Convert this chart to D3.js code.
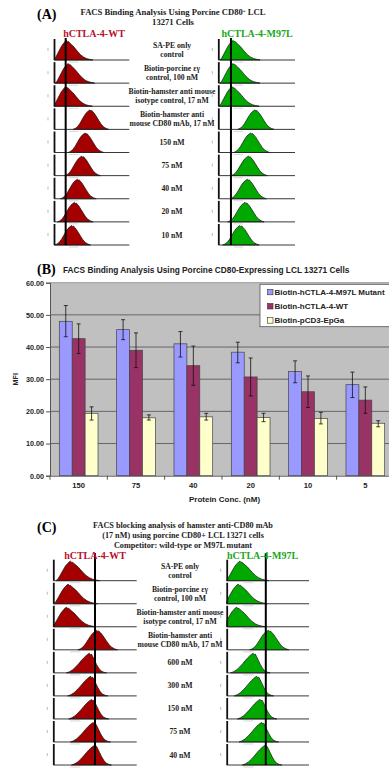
<!DOCTYPE html>
<html>
<meta charset="utf-8">
<title>FACS binding figure</title>
<style>
  html, body { margin: 0; padding: 0; background: #fff; }
  svg { display: block; }
  .serif { font-family: "Liberation Serif", "Times New Roman", serif; font-weight: bold; }
  .sans { font-family: "Liberation Sans", Arial, sans-serif; font-weight: bold; }
</style>
<body>
<div id="chart"></div>
<script src="https://d3js.org/d3.v7.min.js"></script>
<script>
// ---- panel B : bar chart data ----
var concLabels = ["150", "75", "40", "20", "10", "5"];
var seriesNames = ["Biotin-hCTLA-4-M97L Mutant", "Biotin-hCTLA-4-WT", "Biotin-pCD3-EpGa"];
var seriesColors = ["#9999ff", "#993366", "#ffffcc"];
var m97lMean = [48.0, 45.4, 41.0, 38.4, 32.4, 28.3];
var m97lLow  = [43.2, 42.3, 36.9, 35.1, 28.9, 24.3];
var m97lHigh = [52.9, 48.5, 44.8, 41.5, 35.7, 32.2];
var wtMean = [42.6, 39.0, 34.2, 30.7, 26.1, 23.5];
var wtLow  = [38.0, 33.6, 28.1, 24.8, 21.2, 19.4];
var wtHigh = [47.2, 44.4, 40.3, 36.6, 31.0, 27.6];
var epgaMean = [19.4, 18.0, 18.3, 18.1, 17.8, 16.3];
var epgaLow  = [17.3, 17.3, 17.3, 16.8, 16.1, 15.2];
var epgaHigh = [21.4, 18.9, 19.4, 19.4, 19.7, 17.1];
var yTicks = [0, 10, 20, 30, 40, 50, 60];

// ---- panels A and C : histogram data (log10 fluorescence, decades) ----
var rowsA = [["SA-PE only", "control"], ["Biotin-porcine εγ", "control, 100 nM"],
  ["Biotin-hamster anti mouse", "isotype control, 17 nM"], ["Biotin-hamster anti", "mouse CD80 mAb, 17 nM"],
  ["150 nM"], ["75 nM"], ["40 nM"], ["20 nM"], ["10 nM"]];
var peaksA_WT   = [0.67, 0.76, 0.64, 1.91, 1.65, 1.47, 1.24, 1.08, 0.94];
var peaksA_M97L = [0.78, 0.78, 0.73, 1.91, 1.69, 1.56, 1.51, 1.39, 1.13];
var shapesA = ["tail", "tail", "tail", "sym", "sym", "sym", "sym", "sym", "sym"];
var markerA = [0.62, 0.66];

var rowsC = [["SA-PE only", "control"], ["Biotin-porcine εγ", "control, 100 nM"],
  ["Biotin-hamster anti mouse", "isotype control, 17 nM"], ["Biotin-hamster anti", "mouse CD80 mAb, 17 nM"],
  ["600 nM"], ["300 nM"], ["150 nM"], ["75 nM"], ["40 nM"]];
var peaksC_WT   = [0.83, 0.72, 0.64, 2.08, 1.73, 1.79, 1.84, 1.92, 1.97];
var peaksC_M97L = [0.65, 0.57, 0.49, 2.02, 1.29, 1.46, 1.62, 1.70, 1.86];
var shapesC = ["tail", "tail", "tail", "sym", "left", "left", "left", "left", "left"];
var markerC = [2.0, 1.9];

// histogram profiles: [offset from peak (decades), relative count]
var profiles = {
  tail: [[-0.7,0],[-0.6,0.1],[-0.48,0.32],[-0.36,0.55],[-0.24,0.76],[-0.14,0.88],[-0.06,0.97],[0,1],
         [0.05,0.93],[0.1,0.95],[0.16,0.88],[0.25,0.8],[0.36,0.7],[0.48,0.56],[0.6,0.42],[0.74,0.27],
         [0.9,0.15],[1.05,0.08],[1.2,0.04],[1.4,0]],
  sym:  [[-0.9,0],[-0.78,0.05],[-0.66,0.14],[-0.54,0.3],[-0.42,0.5],[-0.3,0.7],[-0.2,0.84],[-0.1,0.93],
         [-0.04,0.97],[0,1],[0.05,0.94],[0.1,0.97],[0.16,0.9],[0.25,0.8],[0.36,0.63],[0.48,0.44],
         [0.6,0.26],[0.72,0.13],[0.86,0.05],[1.0,0]],
  left: [[-1.1,0],[-0.95,0.06],[-0.8,0.16],[-0.66,0.3],[-0.52,0.46],[-0.38,0.64],[-0.26,0.78],[-0.16,0.88],
         [-0.08,0.95],[0,1],[0.05,0.93],[0.1,0.96],[0.16,0.84],[0.25,0.64],[0.35,0.42],[0.45,0.24],
         [0.56,0.1],[0.7,0.03],[0.82,0]]
};

var W = 389, H = 769;
var svg = d3.select("#chart").append("svg").attr("width", W).attr("height", H);

function drawHistPanel(opts) {
  var g = svg.append("g");
  opts.cols.forEach(function(col) {
    var x = d3.scaleLinear().domain([0, 4]).range([col.left, col.right]);
    opts.rows.forEach(function(r, i) {
      var bottom = opts.firstBottom + opts.step * i;
      var y = d3.scaleLinear().domain([0, 1]).range([bottom, bottom - opts.rowH * 0.93]);
      var prof = profiles[opts.shapes[i]];
      var pk = col.peaks[i];
      var pts = prof.map(function(p) { return [Math.max(0, pk + p[0]), p[1]]; });
      var area = d3.area().x(function(d) { return x(d[0]); }).y0(bottom).y1(function(d) { return y(d[1]); })
        .curve(d3.curveLinear);
      g.append("path").attr("d", area(pts)).attr("fill", col.color)
        .attr("stroke", "#111").attr("stroke-width", 0.7);
      // axes of the little plot
      g.append("line").attr("x1", col.left).attr("x2", col.right).attr("y1", bottom).attr("y2", bottom)
        .attr("stroke", "#222").attr("stroke-width", 0.9);
      g.append("line").attr("x1", col.left + 0.5).attr("x2", col.left + 0.5)
        .attr("y1", bottom).attr("y2", bottom - opts.rowH)
        .attr("stroke", "#111").attr("stroke-width", 1.8);
      g.append("line").attr("x1", col.left - 6).attr("x2", col.left - 6)
        .attr("y1", bottom - opts.rowH / 2 - 1.5).attr("y2", bottom - opts.rowH / 2 + 1.5)
        .attr("stroke", "#aaa").attr("stroke-width", 0.8);
      g.append("line").attr("x1", x(0.8)).attr("x2", x(1.3)).attr("y1", bottom + 2).attr("y2", bottom + 2)
        .attr("stroke", "#ccc").attr("stroke-width", 0.8);
    });
    g.append("line").attr("x1", x(col.marker)).attr("x2", x(col.marker))
      .attr("y1", opts.markerTop).attr("y2", opts.firstBottom + opts.step * (opts.rows.length - 1))
      .attr("stroke", "#000").attr("stroke-width", 2);
    g.append("text").attr("class", "serif").attr("x", col.labelX).attr("y", opts.headY)
      .attr("text-anchor", "middle").attr("font-size", 10).attr("fill", col.textColor).text(col.name);
  });
  opts.rows.forEach(function(r, i) {
    var bottom = opts.firstBottom + opts.step * i;
    var mid = bottom - opts.rowH / 2;
    r.forEach(function(line, k) {
      g.append("text").attr("class", "serif").attr("x", opts.labelX)
        .attr("y", mid + (r.length === 1 ? 3 : (k === 0 ? -1.5 : 7.5)))
        .attr("text-anchor", "middle").attr("font-size", 7.7).attr("fill", "#222").text(line);
    });
  });
}

// ---- panel A ----
svg.append("text").attr("class", "serif").attr("x", 37).attr("y", 19).attr("font-size", 14).text("(A)");
var tA = svg.append("text").attr("class", "serif").attr("x", 173).attr("font-size", 8.6).attr("text-anchor", "middle").attr("fill", "#222");
tA.append("tspan").attr("x", 173).attr("y", 15).text("FACS Binding Analysis Using Porcine CD80");
tA.append("tspan").attr("font-size", 5).attr("dy", -3).text("+");
tA.append("tspan").attr("dy", 3).text(" LCL");
tA.append("tspan").attr("x", 173).attr("y", 25).text("13271 Cells");

drawHistPanel({
  rows: rowsA, shapes: shapesA, firstBottom: 60, step: 23.125, rowH: 21, markerTop: 38, headY: 36.5, labelX: 172,
  cols: [
    { left: 54, right: 129.3, peaks: peaksA_WT, marker: markerA[0], color: "#a50000", name: "hCTLA-4-WT", labelX: 94, textColor: "#b8102c" },
    { left: 218.3, right: 295, peaks: peaksA_M97L, marker: markerA[1], color: "#00a800", name: "hCTLA-4-M97L", labelX: 257, textColor: "#1aa81a" }
  ]
});

// ---- panel C ----
svg.append("text").attr("class", "serif").attr("x", 37).attr("y", 532).attr("font-size", 14).text("(C)");
["FACS blocking analysis of hamster anti-CD80 mAb", "(17 nM) using porcine CD80+ LCL 13271 cells",
 "Competitor: wild-type or M97L mutant"].forEach(function(s, i) {
  svg.append("text").attr("class", "serif").attr("x", 183).attr("y", 528 + 9.8 * i).attr("font-size", 8.2)
    .attr("text-anchor", "middle").attr("fill", "#222").text(s);
});

drawHistPanel({
  rows: rowsC, shapes: shapesC, firstBottom: 580.7, step: 23.04, rowH: 21, markerTop: 553, headY: 559, labelX: 180,
  cols: [
    { left: 53.3, right: 136.7, peaks: peaksC_WT, marker: markerC[0], color: "#a50000", name: "hCTLA-4-WT", labelX: 95, textColor: "#b8102c" },
    { left: 226.7, right: 309, peaks: peaksC_M97L, marker: markerC[1], color: "#00a800", name: "hCTLA-4-M97L", labelX: 262.5, textColor: "#1aa81a" }
  ]
});

// ---- panel B : bar chart ----
var bx0 = d3.scaleBand().domain(concLabels).range([50, 394]).paddingInner(0.325).paddingOuter(0.1625);
var bx1 = d3.scaleBand().domain(seriesNames).range([0, bx0.bandwidth()]);
var by = d3.scaleLinear().domain([0, 60]).range([475.7, 282.7]);

var gB = svg.append("g");
gB.append("text").attr("class", "serif").attr("x", 37).attr("y", 274).attr("font-size", 14).text("(B)");
gB.append("text").attr("class", "sans").attr("x", 63).attr("y", 273).attr("font-size", 8.3).attr("fill", "#222")
  .text("FACS Binding Analysis Using Porcine CD80-Expressing LCL 13271 Cells");

gB.append("rect").attr("x", 50).attr("y", by(60)).attr("width", 394 - 50).attr("height", by(0) - by(60))
  .attr("fill", "#c0c0c0");
gB.selectAll(".grid").data(yTicks.filter(function(t) { return t > 0; })).enter().append("line")
  .attr("x1", 50).attr("x2", 394).attr("y1", function(d) { return by(d); }).attr("y2", function(d) { return by(d); })
  .attr("stroke", function(d) { return d === 60 ? "#9a9a9a" : "#666"; }).attr("stroke-width", 1);

var yAxis = d3.axisLeft(by).tickValues(yTicks).tickFormat(d3.format(".2f")).tickSize(4).tickPadding(2);
var ya = gB.append("g").attr("transform", "translate(50,0)").call(yAxis);
ya.selectAll("text").attr("class", "sans").attr("font-size", 7.2).attr("fill", "#222");
ya.selectAll("line, path").attr("stroke", "#555");

var xAxis = d3.axisBottom(bx0).tickSize(0).tickPadding(7);
var xa = gB.append("g").attr("transform", "translate(0," + by(0) + ")").call(xAxis);
xa.selectAll("text").attr("class", "sans").attr("font-size", 7.6).attr("fill", "#222");
xa.select(".domain").attr("stroke", "#555");
concLabels.forEach(function(c, i) {
  var xt = bx0(c) - bx0.step() * bx0.paddingInner() / 2;
  xa.append("line").attr("x1", xt).attr("x2", xt).attr("y1", 0).attr("y2", 4).attr("stroke", "#555");
});

var groups = [[m97lMean, m97lLow, m97lHigh], [wtMean, wtLow, wtHigh], [epgaMean, epgaLow, epgaHigh]];
seriesNames.forEach(function(s, si) {
  var mean = groups[si][0], lo = groups[si][1], hi = groups[si][2];
  concLabels.forEach(function(c, ci) {
    var bxL = bx0(c) + bx1(s);
    gB.append("rect").attr("x", bxL).attr("y", by(mean[ci])).attr("width", bx1.bandwidth())
      .attr("height", by(0) - by(mean[ci])).attr("fill", seriesColors[si]).attr("stroke", "#444").attr("stroke-width", 0.7);
    var cx = bxL + bx1.bandwidth() / 2;
    gB.append("line").attr("x1", cx).attr("x2", cx).attr("y1", by(lo[ci])).attr("y2", by(hi[ci]))
      .attr("stroke", "#111").attr("stroke-width", 0.8);
    [lo[ci], hi[ci]].forEach(function(v) {
      gB.append("line").attr("x1", cx - 2).attr("x2", cx + 2).attr("y1", by(v)).attr("y2", by(v))
        .attr("stroke", "#111").attr("stroke-width", 0.8);
    });
  });
});

gB.append("text").attr("class", "sans").attr("transform", "translate(18," + by(30) + ") rotate(-90)")
  .attr("text-anchor", "middle").attr("font-size", 7.2).attr("fill", "#222").text("MFI");
gB.append("text").attr("class", "sans").attr("x", 224.5).attr("y", 502).attr("text-anchor", "middle")
  .attr("font-size", 8).attr("fill", "#222").text("Protein Conc. (nM)");

// legend
var leg = gB.append("g").attr("transform", "translate(260,284.3)");
leg.append("rect").attr("width", 140).attr("height", 42.4).attr("fill", "#fff").attr("stroke", "#555").attr("stroke-width", 0.8);
seriesNames.forEach(function(s, i) {
  leg.append("rect").attr("x", 7.5).attr("y", 5 + 14.2 * i).attr("width", 5.5).attr("height", 5.5)
    .attr("fill", seriesColors[i]).attr("stroke", "#333").attr("stroke-width", 0.6);
  leg.append("text").attr("class", "sans").attr("x", 14.5).attr("y", 10.6 + 14.2 * i)
    .attr("font-size", 8).attr("fill", "#222").text(s);
});
</script>
</body>
</html>
